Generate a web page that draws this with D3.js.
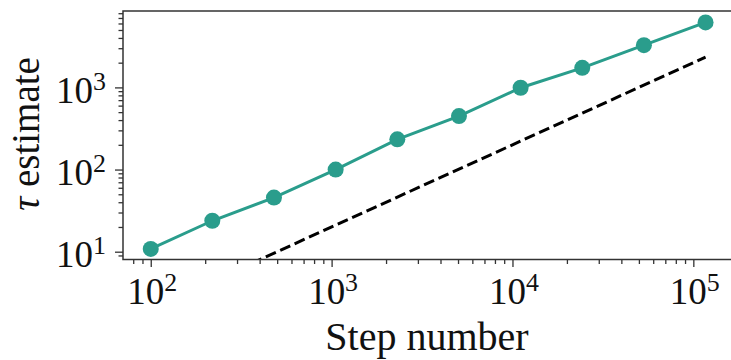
<!DOCTYPE html>
<html>
<head>
<meta charset="utf-8">
<script src="https://cdn.jsdelivr.net/npm/d3@7"></script>
<style>
  html, body { margin: 0; padding: 0; background: #fff; }
  svg { display: block; }
  text { font-family: "Liberation Serif", "DejaVu Serif", serif; fill: #111; }
</style>
</head>
<body>
<svg id="chart" width="731" height="360"></svg>
<script>
// Autocorrelation time estimate vs. number of steps
const steps = [100, 219, 480, 1053, 2309, 5061, 11094, 24319, 53307, 116850];
const tauEstimates = [10.8, 23.8, 45.6, 100, 233, 448, 990, 1730, 3270, 6180];

// Reference line tau = N / 50 (endpoints)
const refSteps = [100, 116850];
const refTau = [2, 2337];

// Axis ticks
const xMajorTicks = [100, 1000, 10000, 100000];
const xMajorExponents = ["2", "3", "4", "5"];
const yMajorTicks = [10, 100, 1000];
const yMajorExponents = ["1", "2", "3"];

const svg = d3.select("#chart");
const W = 731, H = 360;

const plot = { left: 123, right: 733.3, top: 11, bottom: 259.5 };

const x = d3.scaleLog()
  .domain([Math.pow(10, 1.8466), Math.pow(10, 5.221)])
  .range([plot.left, plot.right]);
const y = d3.scaleLog()
  .domain([Math.pow(10, 0.905), Math.pow(10, 3.93)])
  .range([plot.bottom, plot.top]);

function minorTicks(scale) {
  const [d0, d1] = scale.domain();
  const out = [];
  for (let e = Math.floor(Math.log10(d0)); e <= Math.ceil(Math.log10(d1)); e++) {
    for (let m = 2; m <= 9; m++) {
      const v = m * Math.pow(10, e);
      if (v >= d0 && v <= d1) out.push(v);
    }
  }
  return out;
}

const spineColor = "#333";
const teal = "#2a9d8c";
const fontSize = 37;

// clip region for the plotted lines
svg.append("defs").append("clipPath").attr("id", "plot-clip")
  .append("rect")
  .attr("x", plot.left).attr("y", plot.top)
  .attr("width", plot.right - plot.left).attr("height", plot.bottom - plot.top);

// Reference dashed line
const line = d3.line().x(d => x(d[0])).y(d => y(d[1]));
svg.append("path")
  .datum(refSteps.map((s, i) => [s, refTau[i]]))
  .attr("clip-path", "url(#plot-clip)")
  .attr("d", line)
  .attr("fill", "none")
  .attr("stroke", "#000")
  .attr("stroke-width", 3)
  .attr("stroke-dasharray", "11,4.8");

// Estimate series
const series = steps.map((s, i) => [s, tauEstimates[i]]);
svg.append("path")
  .datum(series)
  .attr("d", line)
  .attr("fill", "none")
  .attr("stroke", teal)
  .attr("stroke-width", 3);
svg.append("g").selectAll("circle")
  .data(series)
  .join("circle")
  .attr("cx", d => x(d[0]))
  .attr("cy", d => y(d[1]))
  .attr("r", 8)
  .attr("fill", teal);

// Axes
function styleAxis(g) {
  g.select(".domain").remove();
  g.selectAll(".tick line").attr("stroke", spineColor).attr("stroke-width", 1.3);
}

svg.append("g")
  .attr("transform", `translate(0,${plot.bottom})`)
  .call(d3.axisBottom(x).tickValues(minorTicks(x)).tickSize(4.5).tickFormat(""))
  .call(styleAxis);
svg.append("g")
  .attr("transform", `translate(${plot.left},0)`)
  .call(d3.axisLeft(y).tickValues(minorTicks(y)).tickSize(4.5).tickFormat(""))
  .call(styleAxis);

const xAxis = svg.append("g")
  .attr("transform", `translate(0,${plot.bottom})`)
  .call(d3.axisBottom(x).tickValues(xMajorTicks).tickSize(7.5).tickPadding(0).tickFormat(""))
  .call(styleAxis);
const yAxis = svg.append("g")
  .attr("transform", `translate(${plot.left},0)`)
  .call(d3.axisLeft(y).tickValues(yMajorTicks).tickSize(8).tickPadding(0).tickFormat(""))
  .call(styleAxis);

function powerLabel(textSel, exponent) {
  textSel.text(null)
    .attr("font-size", fontSize)
    .attr("fill", "#111");
  textSel.append("tspan").text("10");
  textSel.append("tspan")
    .attr("font-size", fontSize * 0.7)
    .attr("dy", -fontSize * 0.36)
    .text(exponent);
}

xAxis.selectAll(".tick text").each(function (d, i) {
  const t = d3.select(this)
    .attr("y", null).attr("dy", null)
    .attr("text-anchor", "middle")
    .attr("transform", `translate(1,${304 - plot.bottom})`);
  powerLabel(t, xMajorExponents[i]);
});
yAxis.selectAll(".tick text").each(function (d, i) {
  const t = d3.select(this)
    .attr("x", null).attr("dy", null)
    .attr("text-anchor", "end")
    .attr("transform", `translate(-17,15)`);
  powerLabel(t, yMajorExponents[i]);
});

// Spines
svg.append("rect")
  .attr("x", plot.left).attr("y", plot.top)
  .attr("width", plot.right - plot.left).attr("height", plot.bottom - plot.top)
  .attr("fill", "none")
  .attr("stroke", spineColor)
  .attr("stroke-width", 1.5);

// Axis titles
svg.append("text")
  .attr("x", 427).attr("y", 350)
  .attr("text-anchor", "middle")
  .attr("font-size", 40)
  .text("Step number");

const yTitle = svg.append("text")
  .attr("transform", "translate(39,134) rotate(-90)")
  .attr("text-anchor", "middle")
  .attr("font-size", 39);
yTitle.append("tspan").attr("font-style", "italic").text("τ");
yTitle.append("tspan").text(" estimate");
</script>
</body>
</html>
